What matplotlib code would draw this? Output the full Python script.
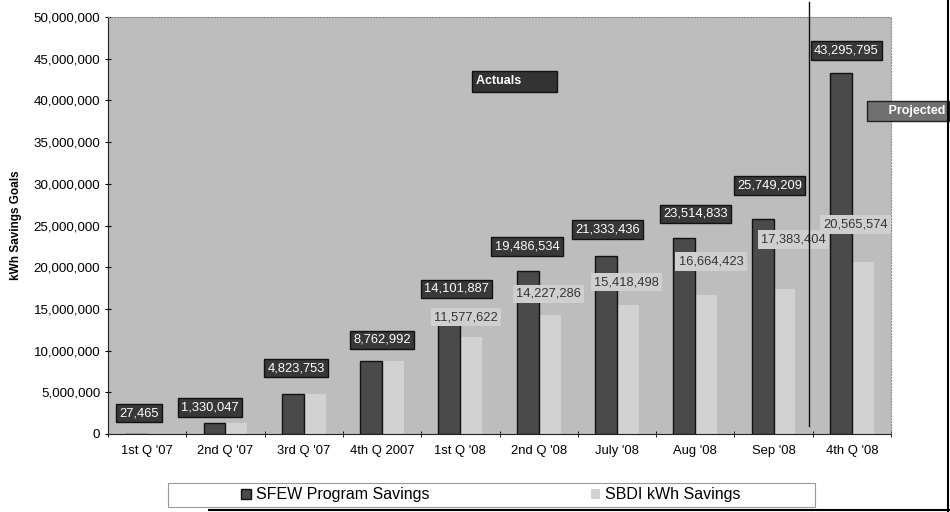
import matplotlib.pyplot as plt
import matplotlib.patches as mpatches
import numpy as np

plt.rcParams['font.family'] = ['Liberation Sans', 'DejaVu Sans']

# data
periods = ["1st Q '07", "2nd Q '07", "3rd Q '07", "4th Q 2007", "1st Q '08",
           "2nd Q '08", "July '08", "Aug '08", "Sep '08", "4th Q '08"]
sfew = [27465, 1330047, 4823753, 8762992, 14101887,
        19486534, 21333436, 23514833, 25749209, 43295795]
sbdi = [27465, 1330047, 4823753, 8762992, 11577622,
        14227286, 15418498, 16664423, 17383404, 20565574]
# which SBDI values carry a visible label
sbdi_labelled = [False, False, False, False, True, True, True, True, True, True]

# label placement (x offset in categories, y in data units) - hand placed like the scan
sfew_lab_pos = [(-0.1, 2.5e6), (-0.2, 3.2e6), (-0.1, 7.9e6), (0.0, 11.3e6),
                (-0.05, 17.4e6), (-0.15, 22.5e6), (-0.12, 24.5e6), (0.0, 26.4e6),
                (-0.05, 29.8e6), (-0.07, 46.0e6)]
sbdi_lab_pos = [None, None, None, None, (0.07, 14.0e6), (0.13, 16.8e6),
                (0.12, 18.2e6), (0.2, 20.7e6), (0.25, 23.3e6), (0.05, 25.1e6)]

fig = plt.figure(figsize=(9.5, 5.12), dpi=100)
ax = fig.add_axes([108/950, 78/512, 783/950, 417/512])
ax.set_facecolor('#bdbdbd')

x = np.arange(len(periods))
w = 0.28
ax.bar(x - w/2, sfew, w, color='#4a4a4a', edgecolor='#111111', linewidth=1.0,
       label='SFEW Program Savings', zorder=3)
ax.bar(x + w/2, sbdi, w, color='#d2d2d2', edgecolor='none',
       label='SBDI kWh Savings', zorder=2)

for i in range(len(periods)):
    dx, yy = sfew_lab_pos[i]
    ax.text(i + dx, yy, f'{sfew[i]:,}', ha='center', va='center', fontsize=9.3,
            color='white', zorder=5,
            bbox=dict(boxstyle='square,pad=0.25', fc='#383838', ec='#111111', lw=1))
    if sbdi_labelled[i]:
        dx, yy = sbdi_lab_pos[i]
        ax.text(i + dx, yy, f'{sbdi[i]:,}', ha='center', va='center', fontsize=9.3,
                color='#333333', zorder=4,
                bbox=dict(boxstyle='square,pad=0.25', fc='#cfcfcf', ec='none'))

ax.set_xlim(-0.5, 9.5)
ax.set_ylim(0, 50000000)
ax.set_yticks(np.arange(0, 50000001, 5000000))
ax.yaxis.set_major_formatter(plt.FuncFormatter(lambda v, p: f'{int(v):,}'))
ax.set_xticks(x)
ax.set_xticklabels(periods)
ax.set_xticks(np.arange(-0.5, 10, 1), minor=True)
ax.tick_params(axis='x', which='major', length=0, pad=8, labelsize=9.4)
ax.tick_params(axis='x', which='minor', length=4, direction='inout')
ax.tick_params(axis='y', length=4, labelsize=9.6, direction='inout')
for s in ['top', 'right']:
    ax.spines[s].set_color('#888888')
    ax.spines[s].set_linestyle(':')
ax.spines['left'].set_color('#222222')
ax.spines['bottom'].set_color('#222222')
ax.set_ylabel('kWh Savings Goals', fontsize=8.5, fontweight='bold', labelpad=8)

# actual / projected split
ax.axvline(8.45, ymin=0.02, ymax=1.035, color='#111111', lw=1, clip_on=False, zorder=6)
ax.text(4.2, 42.3e6, 'Actuals         ', ha='left', va='center', fontsize=9,
        fontweight='bold', color='white', zorder=6,
        bbox=dict(boxstyle='square,pad=0.35', fc='#333333', ec='#111111', lw=1))
ax.text(9.24, 38.7e6, '     Projected', ha='left', va='center', fontsize=9,
        fontweight='bold', color='white', zorder=6, clip_on=False,
        bbox=dict(boxstyle='square,pad=0.3', fc='#707070', ec='#222222', lw=1))

# legend in a hand drawn frame
fig.patches.append(mpatches.Rectangle((168/950, 5/512), 647/950, 24/512,
                                      transform=fig.transFigure, fc='white',
                                      ec='#999999', lw=0.8))
h, l = ax.get_legend_handles_labels()
fig.legend(h, l, loc='center', bbox_to_anchor=(491/950, 17/512), ncol=2,
           frameon=False, fontsize=11.5, handlelength=0.6, handleheight=0.6,
           handletextpad=0.3, columnspacing=10.1)

# scan border on the right and bottom
fig.add_artist(plt.Line2D([948/950, 948/950], [0.0, 1.0], color='black', lw=1.5,
                          transform=fig.transFigure))
fig.add_artist(plt.Line2D([0.22, 1.0], [2/512, 2/512], color='black', lw=1.5,
                          transform=fig.transFigure))

plt.savefig('out.png', dpi=100)
